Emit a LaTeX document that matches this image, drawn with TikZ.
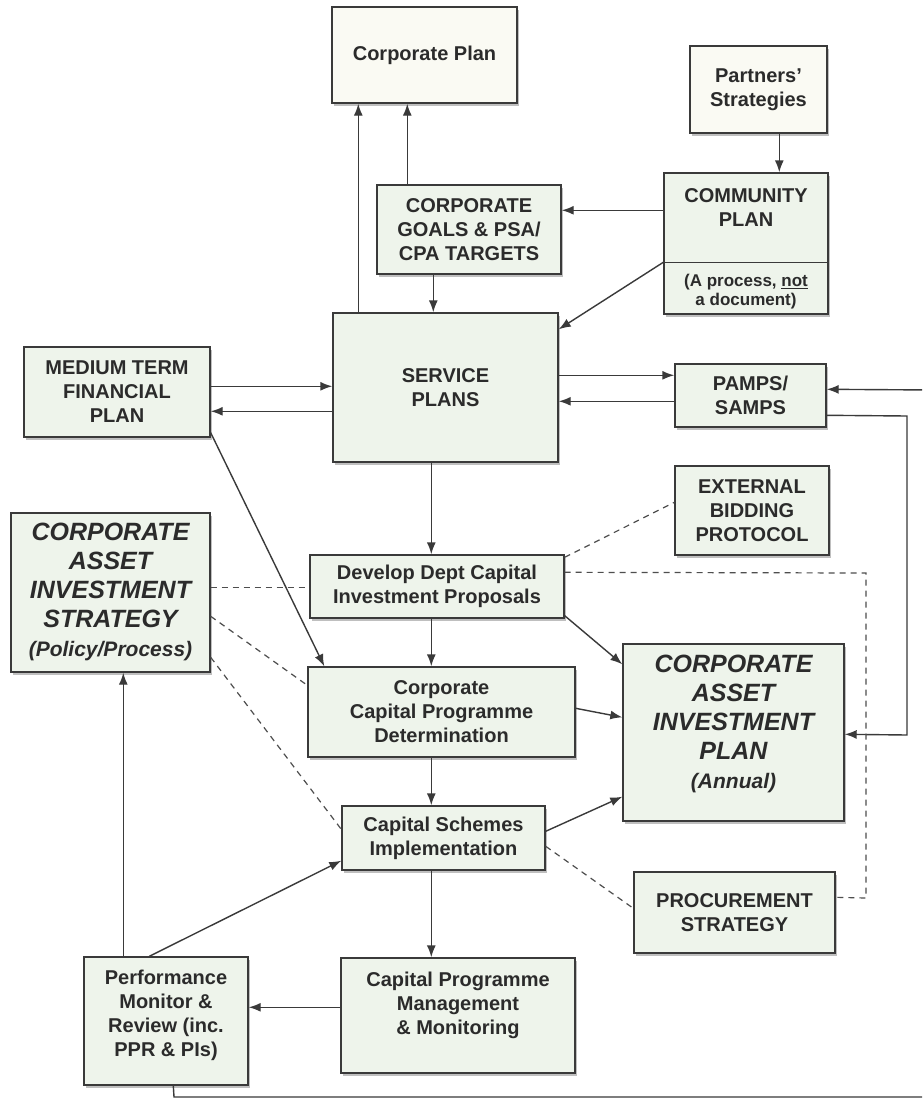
\documentclass[tikz,border=0pt]{standalone}
\usepackage{fontspec}
\setmainfont{Liberation Sans}
\usetikzlibrary{arrows.meta,shadows}
\definecolor{boxfill}{HTML}{EEF4EB}
\definecolor{boxfillw}{HTML}{FAFAF3}
\definecolor{ink}{HTML}{2B2B2B}
\definecolor{linec}{HTML}{3A3A3A}
\tikzset{
  box/.style={draw=linec, line width=1.4pt, fill=boxfill, align=center, text=ink,
    font=\fontsize{20}{24}\selectfont\bfseries, inner sep=0pt,
    drop shadow={shadow xshift=2pt, shadow yshift=-2.5pt, fill=black!45, opacity=0.55}},
  wbox/.style={box, fill=boxfillw},
  lbl/.style={align=center, text=ink, font=\fontsize{20}{24}\selectfont\bfseries, inner sep=0pt},
  note/.style={align=center, text=ink, font=\fontsize{17}{19}\selectfont\bfseries, inner sep=0pt},
  big/.style={align=center, text=ink, font=\fontsize{25}{29}\selectfont\bfseries\itshape, inner sep=0pt},
  arr/.style={draw=linec, line width=1.4pt, -{Latex[length=12pt,width=9pt]}},
  ln/.style={draw=linec, line width=1.4pt},
  dsh/.style={draw=linec!90, line width=1.2pt, dash pattern=on 6pt off 5pt}
}
\begin{document}
\begin{tikzpicture}[x=1pt,y=-1pt]
\useasboundingbox (0,0) rectangle (922,1100);
\fill[white] (0,0) rectangle (922,1100);
\clip (0,0) rectangle (922,1100);

% boxes
\node[wbox, minimum width=185pt, minimum height=96pt] (cp) at (424.5,55) {Corporate Plan};
\node[wbox, minimum width=137pt, minimum height=87pt] (ps) at (758.5,89.5) {Partners’\\Strategies};
\node[box, minimum width=184pt, minimum height=89pt] (goals) at (469,229.5) {CORPORATE\\GOALS \& PSA/\\CPA TARGETS};
\node[box, minimum width=164pt, minimum height=141pt] (comm) at (746,243.5) {};
\draw[ln] ([yshift=-90pt]comm.north west) -- ([yshift=-90pt]comm.north east);
\node[lbl] (commT) at (746,207.5) {COMMUNITY\\PLAN};
\node[note] (commN) at (746,292) {(A process, \underline{not}\\a document)};
\node[box, minimum width=186pt, minimum height=90pt] (mtfp) at (117,392) {MEDIUM TERM\\FINANCIAL\\PLAN};
\node[box, minimum width=225pt, minimum height=149pt] (sp) at (445.5,387.5) {SERVICE\\PLANS};
\node[box, minimum width=151pt, minimum height=63pt] (pamps) at (750.5,395.5) {PAMPS/\\SAMPS};
\node[box, minimum width=154pt, minimum height=89pt] (ext) at (752,510.5) {EXTERNAL\\BIDDING\\PROTOCOL};
\node[box, minimum width=199pt, minimum height=159pt] (cais) at (110.5,592.5) {};
\node[big] (caisT) at (110.5,592) {CORPORATE\\ASSET\\INVESTMENT\\STRATEGY\\\fontsize{21}{29}\selectfont(Policy/Process)};
\node[box, minimum width=254pt, minimum height=63pt] (dev) at (437,586.5) {Develop Dept Capital\\Investment Proposals};
\node[box, minimum width=267pt, minimum height=90pt] (ccpd) at (441.5,712) {Corporate\\Capital Programme\\Determination};
\node[box, minimum width=221pt, minimum height=177pt] (caip) at (733.5,732.5) {};
\node[big] (caipT) at (733.5,724) {CORPORATE\\ASSET\\INVESTMENT\\PLAN\\\fontsize{21}{29}\selectfont(Annual)};
\node[box, minimum width=203pt, minimum height=64pt] (csi) at (443.5,838) {Capital Schemes\\Implementation};
\node[box, minimum width=201pt, minimum height=81pt] (proc) at (734.5,912.5) {PROCUREMENT\\STRATEGY};
\node[box, minimum width=234pt, minimum height=115pt] (cpmm) at (458,1015.5) {};
\node[lbl] (cpmmT) at (458,1005) {Capital Programme\\Management\\\& Monitoring};
\node[box, minimum width=164pt, minimum height=128pt] (perf) at (166,1021) {};
\node[lbl] (perfT) at (166,1015) {Performance\\Monitor \&\\Review (inc.\\PPR \& PIs)};

% free corners of routed connectors
\coordinate (rtop) at (907,416);
\coordinate (rbot) at (907,735);
\coordinate (lb1) at (174,1097);
\coordinate (lb2) at (935,1097);
\coordinate (lb3) at (935,390);
\coordinate (dA) at (866,573);
\coordinate (dB) at (866,898);

% solid connectors
\draw[arr] ([xshift=26pt]sp.north west) -- ([xshift=27pt]cp.south west);
\draw[arr] ([xshift=31pt]goals.north west) -- ([xshift=76pt]cp.south west);
\draw[arr] ([xshift=57pt]goals.south west) -- ([xshift=101pt]sp.north west);
\draw[arr] ([xshift=90pt]ps.south west) -- ([xshift=116pt]comm.north west);
\draw[arr] ([yshift=-38pt]comm.north west) -- ([yshift=-26pt]goals.north east);
\draw[arr] ([yshift=-90pt]comm.north west) -- ([yshift=-17pt]sp.north east);
\draw[arr] ([yshift=-40pt]mtfp.north east) -- ([yshift=-74pt]sp.north west);
\draw[arr] ([yshift=-99pt]sp.north west) -- ([yshift=-65pt]mtfp.north east);
\draw[arr] ([yshift=5pt]mtfp.south east) -- ([xshift=17pt]ccpd.north west);
\draw[arr] ([yshift=-63pt]sp.north east) -- ([yshift=-12pt]pamps.north west);
\draw[arr] ([yshift=-38pt]pamps.north west) -- ([yshift=-89pt]sp.north east);
\draw[arr] ([yshift=-52pt]pamps.north east) -- (rtop) -- (rbot) -- ([yshift=-91pt]caip.north east);
\draw[arr] ([xshift=90pt]perf.south west) -- (lb1) -- (lb2) -- (lb3) -- ([yshift=-26pt]pamps.north east);
\draw[arr] ([xshift=99pt]sp.south west) -- ([xshift=122pt]dev.north west);
\draw[arr] ([xshift=122pt]dev.south west) -- ([xshift=124pt]ccpd.north west);
\draw[arr] ([yshift=3pt]dev.south east) -- ([yshift=-21pt]caip.north west);
\draw[arr] ([yshift=-42pt]ccpd.north east) -- ([yshift=-74pt]caip.north west);
\draw[arr] ([xshift=124pt]ccpd.south west) -- ([xshift=90pt]csi.north west);
\draw[arr] ([yshift=-26pt]csi.north east) -- ([yshift=25pt]caip.south west);
\draw[arr] ([xshift=90pt]csi.south west) -- ([xshift=91pt]cpmm.north west);
\draw[arr] ([yshift=-50pt]cpmm.north west) -- ([yshift=-51pt]perf.north east);
\draw[arr] ([xshift=40pt]perf.north west) -- ([xshift=113pt]cais.south west);
\draw[arr] ([xshift=66pt]perf.north west) -- ([yshift=10pt]csi.south west);

% dashed connectors
\draw[dsh] ([yshift=-75pt]cais.north east) -- ([yshift=-33pt]dev.north west);
\draw[dsh] ([yshift=-104pt]cais.north east) -- ([yshift=-19pt]ccpd.north west);
\draw[dsh] ([yshift=-145pt]cais.north east) -- ([yshift=-24pt]csi.north west);
\draw[dsh] ([yshift=-3pt]dev.north east) -- ([yshift=-37pt]ext.north west);
\draw[dsh] ([yshift=-18pt]dev.north east) -- (dA) -- (dB) -- ([yshift=-26pt]proc.north east);
\draw[dsh] ([yshift=-41pt]csi.north east) -- ([yshift=-37pt]proc.north west);
\end{tikzpicture}
\end{document}
